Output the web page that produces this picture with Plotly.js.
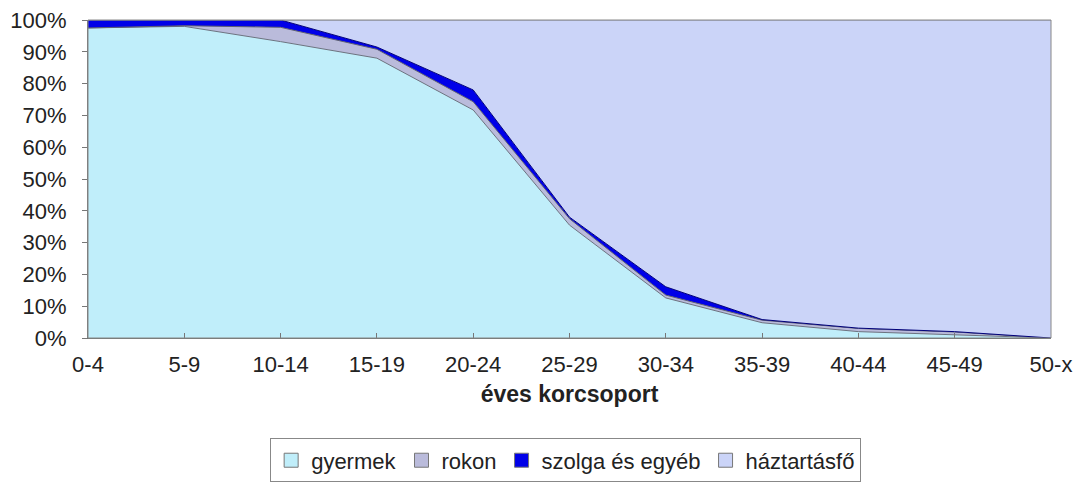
<!DOCTYPE html>
<html>
<head>
<meta charset="utf-8">
<script src="https://cdn.plot.ly/plotly-3.0.1.min.js"></script>
<style>html,body{margin:0;padding:0;background:#fff;}#chart{width:1078px;height:482px;}</style>
</head>
<body>
<div id="chart"></div>
<script>
const categories = ["0-4","5-9","10-14","15-19","20-24","25-29","30-34","35-39","40-44","45-49","50-x"];
const gyermek    = [97.5, 98.0, 93.2, 88.0, 71.7, 35.5, 12.6, 4.8, 2.0, 1.0, 0.0];
const rokon      = [0.0, 0.2, 4.5, 2.8, 2.6, 2.0, 0.9, 0.8, 1.0, 0.9, 0.0];
const szolga     = [2.5, 1.8, 2.3, 0.7, 3.7, 0.5, 2.6, 0.2, 0.1, 0.1, 0.0];
const haztartasfo= [0.0, 0.0, 0.0, 8.5, 22.0, 62.0, 83.9, 94.2, 96.9, 98.0, 100.0];

const seriesNames = ["gyermek","rokon","szolga és egyéb","háztartásfő"];
const seriesData = [gyermek, rokon, szolga, haztartasfo];
const fills = ["#C0EEFA","#BABBDB","#0000E8","#CBD4F8"];
const lines = ["#6B7380","#5E6070","#00007A","#8A8FA8"];

const traces = seriesData.map((d,i)=>({
  type:"scatter", mode:"lines", x:categories, y:d, stackgroup:"one",
  name:seriesNames[i], fillcolor:fills[i], line:{color:lines[i], width:1},
  showlegend:false, hoverinfo:"x+y+name"
}));
// legend swatches
seriesNames.forEach((n,i)=>{
  traces.push({type:"scatter", mode:"markers", x:[null], y:[null], name:n,
    marker:{symbol:"square", size:14, color:fills[i], line:{color:"#777", width:1}}, showlegend:true});
});

const font = {family:"Liberation Sans, Arial, sans-serif", size:22, color:"#222"};
const layout = {
  width:1078, height:482,
  margin:{l:88, r:27, t:20, b:144, autoexpand:false},
  paper_bgcolor:"#fff", plot_bgcolor:"#fff",
  font:font,
  showlegend:true,
  xaxis:{type:"category", range:[0,10], showgrid:false, zeroline:false, automargin:false,
    showline:true, linecolor:"#6E7570", linewidth:1, mirror:false,
    ticks:"inside", ticklen:5, tickcolor:"#777", tickfont:font, ticklabelstandoff:7,
    title:{text:"<b>éves korcsoport</b>", font:{family:"Liberation Sans, Arial, sans-serif", size:23, color:"#222"}, standoff:9}},
  yaxis:{range:[0,100], dtick:10, ticksuffix:"%", showgrid:false, zeroline:false, automargin:false,
    showline:true, linecolor:"#777", linewidth:1, ticks:"outside", ticklen:5, tickcolor:"#777",
    tickfont:font, ticklabelstandoff:11},
  legend:{orientation:"h", x:0.496, xanchor:"center", y:-0.385, yanchor:"middle", traceorder:"normal",
    bordercolor:"#888", borderwidth:1, font:{family:"Liberation Sans, Arial, sans-serif", size:22, color:"#222"},
    itemwidth:30, tracegroupgap:0},
  shapes:[{type:"rect", xref:"paper", yref:"paper", x0:0, x1:1, y0:0, y1:1, line:{color:"#888", width:1}}]
};
Plotly.newPlot("chart", traces, layout, {displayModeBar:false, staticPlot:true});
</script>
</body>
</html>
